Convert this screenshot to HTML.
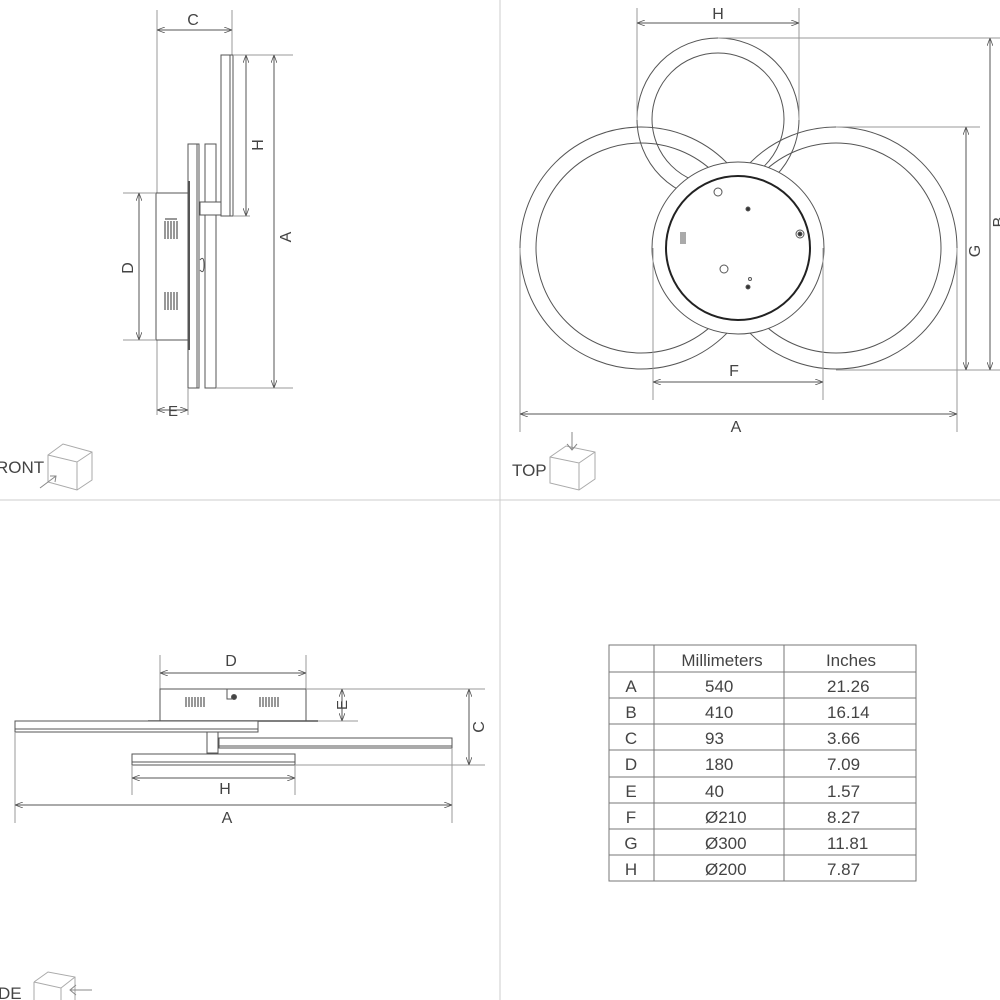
<!DOCTYPE html>
<html><head><meta charset="utf-8"><style>
html,body{margin:0;padding:0;background:#fff;}
svg{display:block;}
text{font-family:"Liberation Sans",sans-serif;fill:#444;}
</style></head><body>
<svg width="1000" height="1000" viewBox="0 0 1000 1000" xmlns="http://www.w3.org/2000/svg">
<defs>
<marker id="ar" markerWidth="8" markerHeight="6" refX="8" refY="3" orient="auto-start-reverse" markerUnits="userSpaceOnUse">
<path d="M0,0 L8,3 L0,6" fill="none" stroke="#555" stroke-width="0.8"/></marker>
</defs>
<g stroke="#ccc" stroke-width="1"><line x1="500" y1="0" x2="500" y2="1000"/><line x1="0" y1="500" x2="1000" y2="500"/></g>

<!-- FRONT VIEW -->
<g stroke="#555" stroke-width="1" fill="none">
<line x1="157" y1="10" x2="157" y2="415" stroke="#999"/>
<line x1="232" y1="10" x2="232" y2="55" stroke="#999"/>
<line x1="157" y1="30" x2="232" y2="30" marker-start="url(#ar)" marker-end="url(#ar)"/>
<rect x="221" y="55" width="12" height="161" fill="#fff"/>
<line x1="230" y1="55" x2="230" y2="216"/>
<line x1="233" y1="55" x2="293" y2="55" stroke="#999"/>
<line x1="233" y1="216" x2="250" y2="216" stroke="#999"/>
<line x1="246" y1="55" x2="246" y2="216" marker-start="url(#ar)" marker-end="url(#ar)"/>
<rect x="188" y="144" width="11" height="244" fill="#fff"/>
<line x1="197" y1="144" x2="197" y2="388"/>
<rect x="205" y="144" width="11" height="244" fill="#fff"/>
<rect x="200" y="202" width="21" height="13" fill="#fff"/>
<path d="M200,260 q4,-5 4,5 q0,10 -4,5"/>
<rect x="156" y="193" width="32" height="147" fill="#fff"/>
<line x1="189" y1="181" x2="189" y2="350" stroke-width="2"/>
<line x1="123" y1="193" x2="156" y2="193" stroke="#999"/>
<line x1="123" y1="340" x2="156" y2="340" stroke="#999"/>
<line x1="139" y1="193" x2="139" y2="340" marker-start="url(#ar)" marker-end="url(#ar)"/>
<line x1="216" y1="388" x2="293" y2="388" stroke="#999"/>
<line x1="274" y1="55" x2="274" y2="388" marker-start="url(#ar)" marker-end="url(#ar)"/>
<line x1="188" y1="388" x2="188" y2="415" stroke="#999"/>
<line x1="157" y1="410" x2="188" y2="410" marker-start="url(#ar)" marker-end="url(#ar)"/>
<g stroke="#777" stroke-width="1.5">
<path d="M165,219h12M165,221v18M168,221v18M171,221v18M174,221v18M177,221v18"/>
<path d="M165,292v18M168,292v18M171,292v18M174,292v18M177,292v18"/>
</g>
</g>
<text x="193" y="25" font-size="16" text-anchor="middle">C</text>
<text transform="translate(263,145) rotate(-90)" font-size="16" text-anchor="middle">H</text>
<text transform="translate(291,237) rotate(-90)" font-size="16" text-anchor="middle">A</text>
<text transform="translate(133,268) rotate(-90)" font-size="16" text-anchor="middle">D</text>
<text x="173" y="416" font-size="15" text-anchor="middle">E</text>
<text x="-4" y="473" font-size="17" fill="#666">RONT</text>
<g stroke="#aaa" fill="none" stroke-width="1">
<path d="M48,455 L63,444 L92,452 L92,480 L77,490 L48,482 Z M48,455 L77,462 L92,452 M77,462 L77,490"/>
<path d="M40,488 L56,476 M50,476 L56,476 L55,482" stroke="#888"/>
</g>

<!-- TOP VIEW -->
<g stroke="#555" stroke-width="1" fill="none">
<circle cx="718" cy="119" r="81"/><circle cx="718" cy="119" r="66"/>
<circle cx="641" cy="248" r="121"/><circle cx="641" cy="248" r="105"/>
<circle cx="836" cy="248" r="121"/><circle cx="836" cy="248" r="105"/>
<circle cx="738" cy="248" r="86" fill="#fff"/>
<circle cx="738" cy="248" r="72" stroke="#222" stroke-width="2"/>
<circle cx="718" cy="192" r="4"/><circle cx="724" cy="269" r="4"/>
<circle cx="748" cy="209" r="2" fill="#333"/><circle cx="748" cy="287" r="2" fill="#333"/>
<circle cx="750" cy="279" r="1.5"/>
<circle cx="800" cy="234" r="4"/><circle cx="800" cy="234" r="2" fill="#333"/>
<path d="M681,232v12M683,232v12M685,232v12"/>
<line x1="637" y1="8" x2="637" y2="120" stroke="#999"/>
<line x1="799" y1="8" x2="799" y2="120" stroke="#999"/>
<line x1="637" y1="23" x2="799" y2="23" marker-start="url(#ar)" marker-end="url(#ar)"/>
<line x1="718" y1="38" x2="1000" y2="38" stroke="#999"/>
<line x1="836" y1="127" x2="980" y2="127" stroke="#999"/>
<line x1="836" y1="370" x2="1000" y2="370" stroke="#999"/>
<line x1="990" y1="38" x2="990" y2="370" marker-start="url(#ar)" marker-end="url(#ar)"/>
<line x1="966" y1="127" x2="966" y2="370" marker-start="url(#ar)" marker-end="url(#ar)"/>
<line x1="653" y1="248" x2="653" y2="400" stroke="#999"/>
<line x1="823" y1="248" x2="823" y2="400" stroke="#999"/>
<line x1="653" y1="382" x2="823" y2="382" marker-start="url(#ar)" marker-end="url(#ar)"/>
<line x1="520" y1="248" x2="520" y2="432" stroke="#999"/>
<line x1="957" y1="248" x2="957" y2="432" stroke="#999"/>
<line x1="520" y1="414" x2="957" y2="414" marker-start="url(#ar)" marker-end="url(#ar)"/>
</g>
<text x="718" y="19" font-size="16" text-anchor="middle">H</text>
<text x="734" y="376" font-size="16" text-anchor="middle">F</text>
<text x="736" y="432" font-size="16" text-anchor="middle">A</text>
<text transform="translate(980,251) rotate(-90)" font-size="16" text-anchor="middle">G</text>
<text transform="translate(1004,222) rotate(-90)" font-size="16" text-anchor="middle">B</text>
<text x="512" y="476" font-size="17" fill="#666">TOP</text>
<g stroke="#aaa" fill="none" stroke-width="1">
<path d="M550,457 L566,446 L595,452 L595,479 L579,490 L550,483 Z M550,457 L579,463 L595,452 M579,463 L579,490"/>
<path d="M572,432 L572,450 M567,444 L572,450 L577,444" stroke="#888"/>
</g>

<!-- SIDE VIEW -->
<g stroke="#555" stroke-width="1" fill="none">
<line x1="160" y1="655" x2="160" y2="689" stroke="#999"/>
<line x1="306" y1="655" x2="306" y2="689" stroke="#999"/>
<line x1="160" y1="673" x2="306" y2="673" marker-start="url(#ar)" marker-end="url(#ar)"/>
<rect x="160" y="689" width="146" height="32" fill="#fff"/>
<path d="M227,689 v10 h5"/><circle cx="234" cy="697" r="2.5" fill="#444"/>
<g stroke="#777" stroke-width="1.5"><path d="M186,697v10M189,697v10M192,697v10M195,697v10M198,697v10M201,697v10M204,697v10"/>
<path d="M260,697v10M263,697v10M266,697v10M269,697v10M272,697v10M275,697v10M278,697v10"/></g>
<line x1="148" y1="721" x2="318" y2="721" stroke-width="1.5"/>
<rect x="15" y="721" width="243" height="11" fill="#fff"/>
<line x1="15" y1="729" x2="258" y2="729"/>
<rect x="207" y="732" width="11" height="21" fill="#fff"/>
<rect x="219" y="738" width="233" height="10" fill="#fff"/>
<line x1="219" y1="746" x2="452" y2="746"/>
<rect x="132" y="754" width="163" height="11" fill="#fff"/>
<line x1="132" y1="762" x2="295" y2="762"/>
<line x1="306" y1="689" x2="485" y2="689" stroke="#999"/>
<line x1="318" y1="721" x2="358" y2="721" stroke="#999"/>
<line x1="342" y1="689" x2="342" y2="721" marker-start="url(#ar)" marker-end="url(#ar)"/>
<line x1="295" y1="765" x2="485" y2="765" stroke="#999"/>
<line x1="469" y1="689" x2="469" y2="765" marker-start="url(#ar)" marker-end="url(#ar)"/>
<line x1="132" y1="765" x2="132" y2="795" stroke="#999"/>
<line x1="295" y1="765" x2="295" y2="795" stroke="#999"/>
<line x1="132" y1="778" x2="295" y2="778" marker-start="url(#ar)" marker-end="url(#ar)"/>
<line x1="15" y1="732" x2="15" y2="823" stroke="#999"/>
<line x1="452" y1="748" x2="452" y2="823" stroke="#999"/>
<line x1="15" y1="805" x2="452" y2="805" marker-start="url(#ar)" marker-end="url(#ar)"/>
</g>
<text x="231" y="666" font-size="16" text-anchor="middle">D</text>
<text transform="translate(347,705) rotate(-90)" font-size="15" text-anchor="middle">E</text>
<text transform="translate(484,727) rotate(-90)" font-size="16" text-anchor="middle">C</text>
<text x="225" y="794" font-size="16" text-anchor="middle">H</text>
<text x="227" y="823" font-size="16" text-anchor="middle">A</text>
<text x="-2" y="999" font-size="17" fill="#666">DE</text>
<g stroke="#aaa" fill="none" stroke-width="1">
<path d="M34,982 L48,972 L75,977 L75,1000 M34,982 L34,1000 M34,982 L61,988 L75,977 M61,988 L61,1000"/>
<path d="M92,990 L70,990 M76,985 L70,990 L76,995" stroke="#888"/>
</g>

<!-- TABLE -->
<g stroke="#777" stroke-width="1" fill="none">
<rect x="609" y="645" width="307" height="236"/>
<line x1="654" y1="645" x2="654" y2="881"/><line x1="784" y1="645" x2="784" y2="881"/>
<line x1="609" y1="672" x2="916" y2="672"/><line x1="609" y1="698" x2="916" y2="698"/>
<line x1="609" y1="724" x2="916" y2="724"/><line x1="609" y1="750" x2="916" y2="750"/>
<line x1="609" y1="777" x2="916" y2="777"/><line x1="609" y1="803" x2="916" y2="803"/>
<line x1="609" y1="829" x2="916" y2="829"/><line x1="609" y1="855" x2="916" y2="855"/>
</g>
<g font-size="17" fill="#333">
<text x="722" y="666" text-anchor="middle">Millimeters</text><text x="851" y="666" text-anchor="middle">Inches</text>
<g text-anchor="middle">
<text x="631" y="692">A</text><text x="631" y="718">B</text><text x="631" y="744">C</text><text x="631" y="770">D</text>
<text x="631" y="797">E</text><text x="631" y="823">F</text><text x="631" y="849">G</text><text x="631" y="875">H</text>
</g>
<text x="705" y="692">540</text><text x="705" y="718">410</text><text x="705" y="744">93</text><text x="705" y="770">180</text>
<text x="705" y="797">40</text><text x="705" y="823">Ø210</text><text x="705" y="849">Ø300</text><text x="705" y="875">Ø200</text>
<text x="827" y="692">21.26</text><text x="827" y="718">16.14</text><text x="827" y="744">3.66</text><text x="827" y="770">7.09</text>
<text x="827" y="797">1.57</text><text x="827" y="823">8.27</text><text x="827" y="849">11.81</text><text x="827" y="875">7.87</text>
</g>
</svg>
</body></html>
